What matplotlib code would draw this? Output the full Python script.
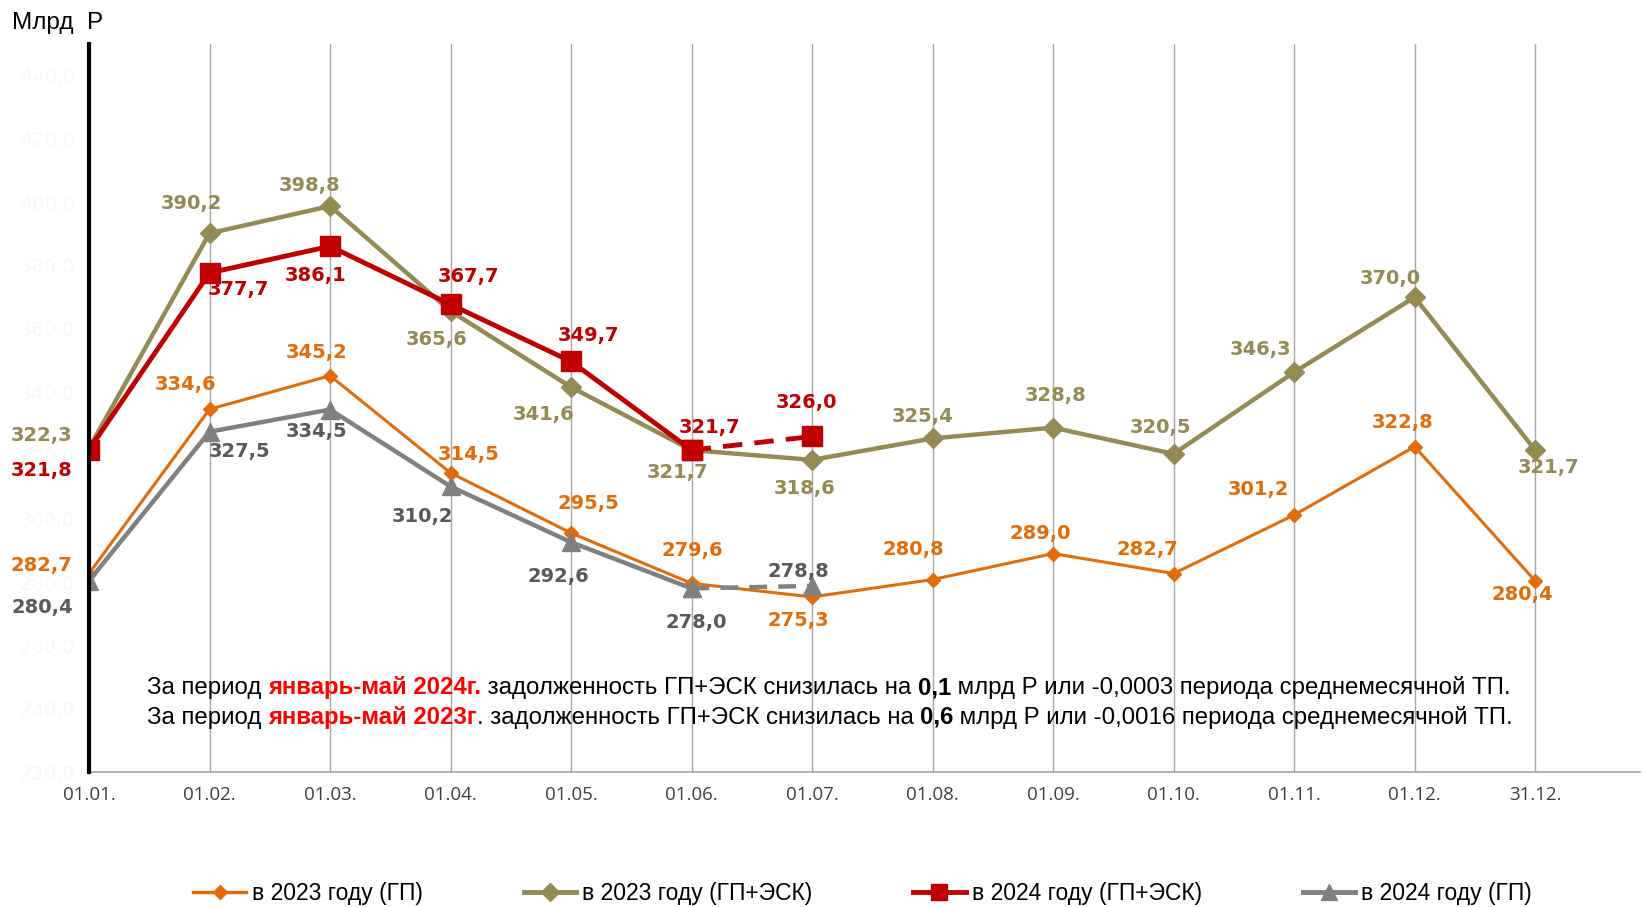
import matplotlib
matplotlib.use("Agg")
import matplotlib.pyplot as plt
from matplotlib.lines import Line2D
from matplotlib import font_manager

# ---------------- data ----------------
dates = ["01.01.", "01.02.", "01.03.", "01.04.", "01.05.", "01.06.", "01.07.",
         "01.08.", "01.09.", "01.10.", "01.11.", "01.12.", "31.12."]
gp_2023 = [282.7, 334.6, 345.2, 314.5, 295.5, 279.6, 275.3, 280.8, 289.0, 282.7, 301.2, 322.8, 280.4]
gpesk_2023 = [322.3, 390.2, 398.8, 365.6, 341.6, 321.7, 318.6, 325.4, 328.8, 320.5, 346.3, 370.0, 321.7]
gpesk_2024 = [321.8, 377.7, 386.1, 367.7, 349.7, 321.7, 326.0]
gp_2024 = [280.4, 327.5, 334.5, 310.2, 292.6, 278.0, 278.8]
yticks = [220, 240, 260, 280, 300, 320, 340, 360, 380, 400, 420, 440]
series_names = ["в 2023 году (ГП)", "в 2023 году (ГП+ЭСК)", "в 2024 году (ГП+ЭСК)", "в 2024 году (ГП)"]

# label offsets (pixels, x right / y down as seen in the picture)
off_gp23 = [(-45, -8), (-23, -24), (-13, -22), (17, -18), (17, -28), (1, -31), (-13, 22),
            (-18, -29), (-12, -19), (-25, -23), (-34, -24), (-12, -23), (-12, 13)]
off_ge23 = [(-45, -12), (-17, -28), (-20, -20), (-13, 27), (-26, 26), (-13, 21), (-7, 27),
            (-10, -21), (2, -31), (-13, -25), (-32, -22), (-23, -18), (13, 17)]
off_ge24 = [(-45, 20), (28, 16), (-14, 28), (17, -27), (17, -25), (17, -22), (-5, -32)]
off_gp24 = [(-45, 25), (29, 19), (-13, 21), (-27, 29), (-12, 33), (4, 33), (-13, -14)]

# ---------------- style ----------------
C_OR = "#E36C0A"
C_OL = "#948A54"
C_RD = "#C00000"
C_GR = "#808080"
C_GR_TXT = "#595959"

names = {f.name for f in font_manager.fontManager.ttflist}
narrow = "Liberation Sans Narrow" if "Liberation Sans Narrow" in names else "Liberation Sans"

W, H = 1643, 907
fig = plt.figure(figsize=(W / 100, H / 100), dpi=100)
ax = fig.add_axes([89 / W, 135 / H, (1640 - 89) / W, (772 - 44) / H])
ax.set_xlim(0, 12.87)
ax.set_ylim(220, 450)

x_all = list(range(len(dates)))
for xi in x_all:
    ax.axvline(xi, color="#A6A6A6", lw=1.0, zorder=1)

# series
ax.plot(x_all, gp_2023, color=C_OR, lw=2.2, marker="D", ms=7.5, zorder=3)
ax.plot(x_all[:6], gp_2024[:6], color=C_GR, lw=3.2, marker="^", ms=13, zorder=4)
ax.plot(x_all[5:7], gp_2024[5:7], color=C_GR, lw=3.2, ls=(0, (4, 2.5)), marker="^", ms=13, zorder=4)
ax.plot(x_all, gpesk_2023, color=C_OL, lw=3.2, marker="D", ms=10.5, zorder=5)
ax.plot(x_all[:6], gpesk_2024[:6], color=C_RD, lw=3.5, marker="s", ms=14.5, zorder=6)
ax.plot(x_all[5:7], gpesk_2024[5:7], color=C_RD, lw=3.5, ls=(0, (4, 2.5)), marker="s", ms=14.5, zorder=6)

k = 1643 / 1568


def labels(vals, offs, color):
    for i, (v, (dx, dy)) in enumerate(zip(vals, offs)):
        ax.annotate(f"{v:.1f}".replace(".", ","), (i, v), xytext=(dx * k, -dy * k),
                    textcoords="offset pixels", ha="center", va="center",
                    fontsize=14, fontweight="bold", color=color, zorder=8,
                    annotation_clip=False)


labels(gp_2023, off_gp23, C_OR)
labels(gpesk_2023, off_ge23, C_OL)
labels(gpesk_2024, off_ge24, C_RD)
labels(gp_2024, off_gp24, C_GR_TXT)

# axes styling
ax.set_xticks(x_all)
ax.set_xticklabels(dates, fontsize=13.5, color="#404040", family="Open Sans")
ax.tick_params(axis="x", length=0, pad=10)
ax.set_yticks(yticks)
ax.set_yticklabels([f"{t},0" for t in yticks], fontsize=14, color="#F8F8F8")
ax.tick_params(axis="y", length=0, pad=10)
for s in ["top", "right"]:
    ax.spines[s].set_visible(False)
ax.spines["left"].set_color("black")
ax.spines["left"].set_linewidth(3)
ax.spines["left"].set_zorder(7)
ax.spines["bottom"].set_color("#A6A6A6")
ax.spines["bottom"].set_linewidth(1.2)

fig.text(12 / W, 1 - 22 * k / H, "Млрд  Р", fontsize=17.5, family="Liberation Sans",
         va="center", ha="left", color="black")

# annotation text lines
FS = 17.3


def rich_line(x, y, parts):
    prev = fig.text(x, y, parts[0][0], fontsize=FS, family="Liberation Sans",
                    color=parts[0][1], fontweight=parts[0][2], va="center", ha="left")
    for txt, col, wt in parts[1:]:
        prev = ax.annotate(txt, xy=(1, 0), xycoords=prev, va="bottom", ha="left",
                           fontsize=FS, family="Liberation Sans", color=col, fontweight=wt)
    return prev


line1 = [("За период ", "black", "normal"), ("январь-май 2024г.", "#FF0000", "bold"),
         (" задолженность ГП+ЭСК снизилась на ", "black", "normal"), ("0,1", "black", "bold"),
         (" млрд Р или -0,0003 периода среднемесячной ТП.", "black", "normal")]
line2 = [("За период ", "black", "normal"), ("январь-май 2023г", "#FF0000", "bold"),
         (". задолженность ГП+ЭСК снизилась на ", "black", "normal"), ("0,6", "black", "bold"),
         (" млрд Р или -0,0016 периода среднемесячной ТП.", "black", "normal")]
rich_line(140 * k / W, 1 - 657 * k / H, line1)
rich_line(140 * k / W, 1 - 685 * k / H, line2)

# legend
handles = [
    Line2D([], [], color=C_OR, lw=2.5, marker="D", ms=7),
    Line2D([], [], color=C_OL, lw=3.5, marker="D", ms=9),
    Line2D([], [], color=C_RD, lw=3.5, marker="s", ms=12),
    Line2D([], [], color=C_GR, lw=3.5, marker="^", ms=11),
]
fig.legend(handles, series_names, ncol=4, loc="center", bbox_to_anchor=(0.525, 0.015),
           frameon=False, handlelength=2.3, handletextpad=0.25, columnspacing=4.4,
           prop={"family": narrow, "size": 16.5})

fig.savefig("out.png", dpi=100)
